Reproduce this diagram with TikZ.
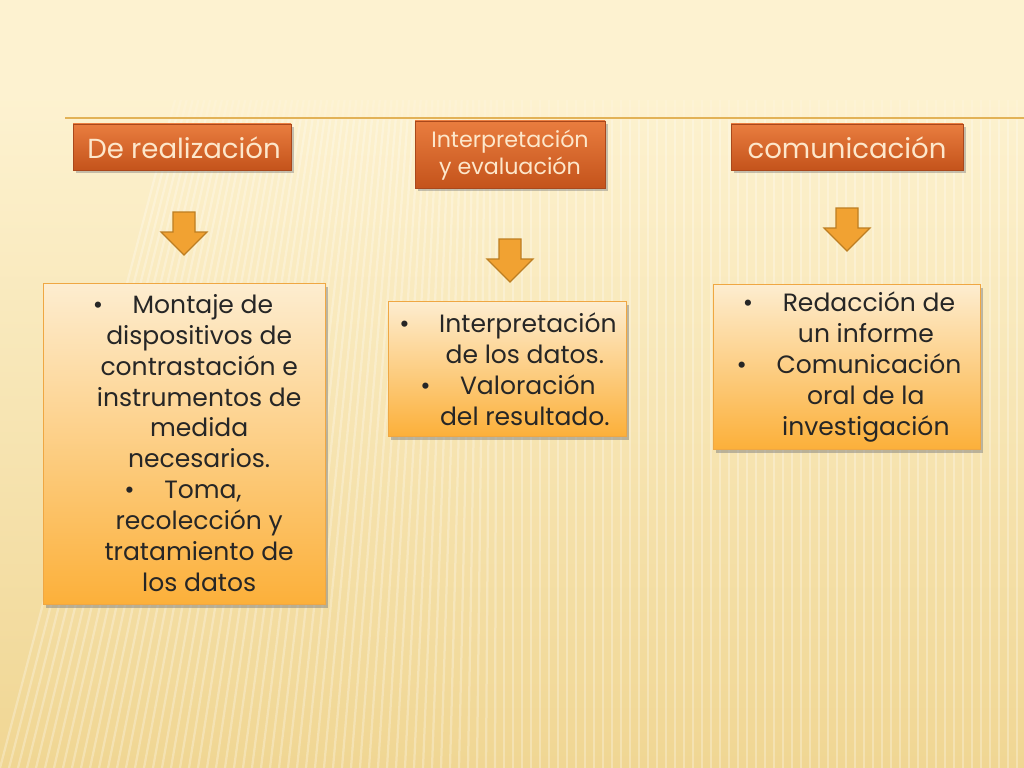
\documentclass[tikz,border=0pt]{standalone}
\usepackage{fontspec}
\newfontfamily\gothic{Poppins}
\usetikzlibrary{shadows}
\definecolor{cream}{HTML}{FDF2D0}
\definecolor{sand}{HTML}{F0D693}
\definecolor{rule}{HTML}{E2B257}
\definecolor{rusttop}{HTML}{E97D3F}
\definecolor{rustbot}{HTML}{C4531B}
\definecolor{rustedge}{HTML}{A9481C}
\definecolor{headtext}{HTML}{FDE7CB}
\definecolor{boxtop}{HTML}{FDEDD0}
\definecolor{boxbot}{HTML}{FCB03A}
\definecolor{boxedge}{HTML}{EFA743}
\definecolor{arrfill}{HTML}{F1A232}
\definecolor{arredge}{HTML}{BD7E22}
\tikzset{
  header/.style={draw=rustedge,line width=0.6pt,top color=rusttop,bottom color=rustbot,
    drop shadow={shadow xshift=2pt,shadow yshift=-2pt,opacity=0.45}},
  headlabel/.style={text=headtext,font=\gothic\fontsize{19.6}{23}\selectfont,align=center},
  itembox/.style={draw=boxedge,line width=0.6pt,top color=boxtop,bottom color=boxbot,
    drop shadow={shadow xshift=2pt,shadow yshift=-2.5pt,opacity=0.5}},
  itemtext/.style={text=black!85,font=\gothic\fontsize{17.8}{22}\selectfont,align=center},
  blockarrow/.style={fill=arrfill,draw=arredge,line width=0.8pt,line join=miter},
  pics/downarrow/.style={code={
    \draw[blockarrow] (-11,0) -- (11,0) -- (11,20) -- (23,20) -- (0,43) -- (-23,20) -- (-11,20) -- cycle;}}
}
\begin{document}
\begin{tikzpicture}[x=0.025cm,y=-0.025cm]
%background
\useasboundingbox (0,0) rectangle (1024,768);
\fill[cream] (0,0) rectangle (1024,768);
\shade[top color=cream,bottom color=sand] (0,95) rectangle (1024,768);
\foreach \x in {0,9,...,1100}{
  \pgfmathsetmacro{\d}{max(0,(500-\x)*0.35)}
  \draw[white,opacity=0.28,line width=1.6pt] (\x+\d,100) -- (\x,768);
}
\fill[cream,opacity=0.55] (0,0) rectangle (1024,120);
\draw[rule,line width=0.8pt] (65,118) -- (1024,118);
%headers
\draw[header] (73,124) rectangle (291,170);
\node[headlabel] (realiz) at (184,148) {De realización};
\draw[header] (415,121) rectangle (605,188);
\node[headlabel,font=\gothic\fontsize{15.8}{19.5}\selectfont] (interp) at (510,155) {Interpretación\\y evaluación};
\draw[header] (731,124) rectangle (963,170);
\node[headlabel] (comun) at (847,148) {comunicación};
%arrows
\pic (arrA) at (184,212) {downarrow};
\pic (arrB) at (510,239) {downarrow};
\pic (arrC) at (847,208) {downarrow};
%first box
\draw[itembox] (43,283) rectangle (325,604);
\node[itemtext] (montaje) at (183,443) {%
\textbullet\hspace{21pt}Montaje de\\
\hspace*{23pt}dispositivos de\\
\hspace*{23pt}contrastación e\\
\hspace*{23pt}instrumentos de\\
\hspace*{23pt}medida\\
\hspace*{23pt}necesarios.\\
\textbullet\hspace{21pt}Toma,\\
\hspace*{23pt}recolección y\\
\hspace*{23pt}tratamiento de\\
\hspace*{23pt}los datos};
%second box
\draw[itembox] (388,301) rectangle (626,436);
\node[itemtext] (datos) at (508,369) {%
\textbullet\hspace{21pt}Interpretación\\
\hspace*{24pt}de los datos.\\
\textbullet\hspace{21pt}Valoración\\
\hspace*{24pt}del resultado.};
%third box
\draw[itembox] (713,284) rectangle (980,449);
\node[itemtext] (informe) at (849,367) {%
\textbullet\hspace{21pt}Redacción de\\
\hspace*{24pt}un informe\\
\textbullet\hspace{21pt}Comunicación\\
\hspace*{24pt}oral de la\\
\hspace*{24pt}investigación};
\end{tikzpicture}
\end{document}
